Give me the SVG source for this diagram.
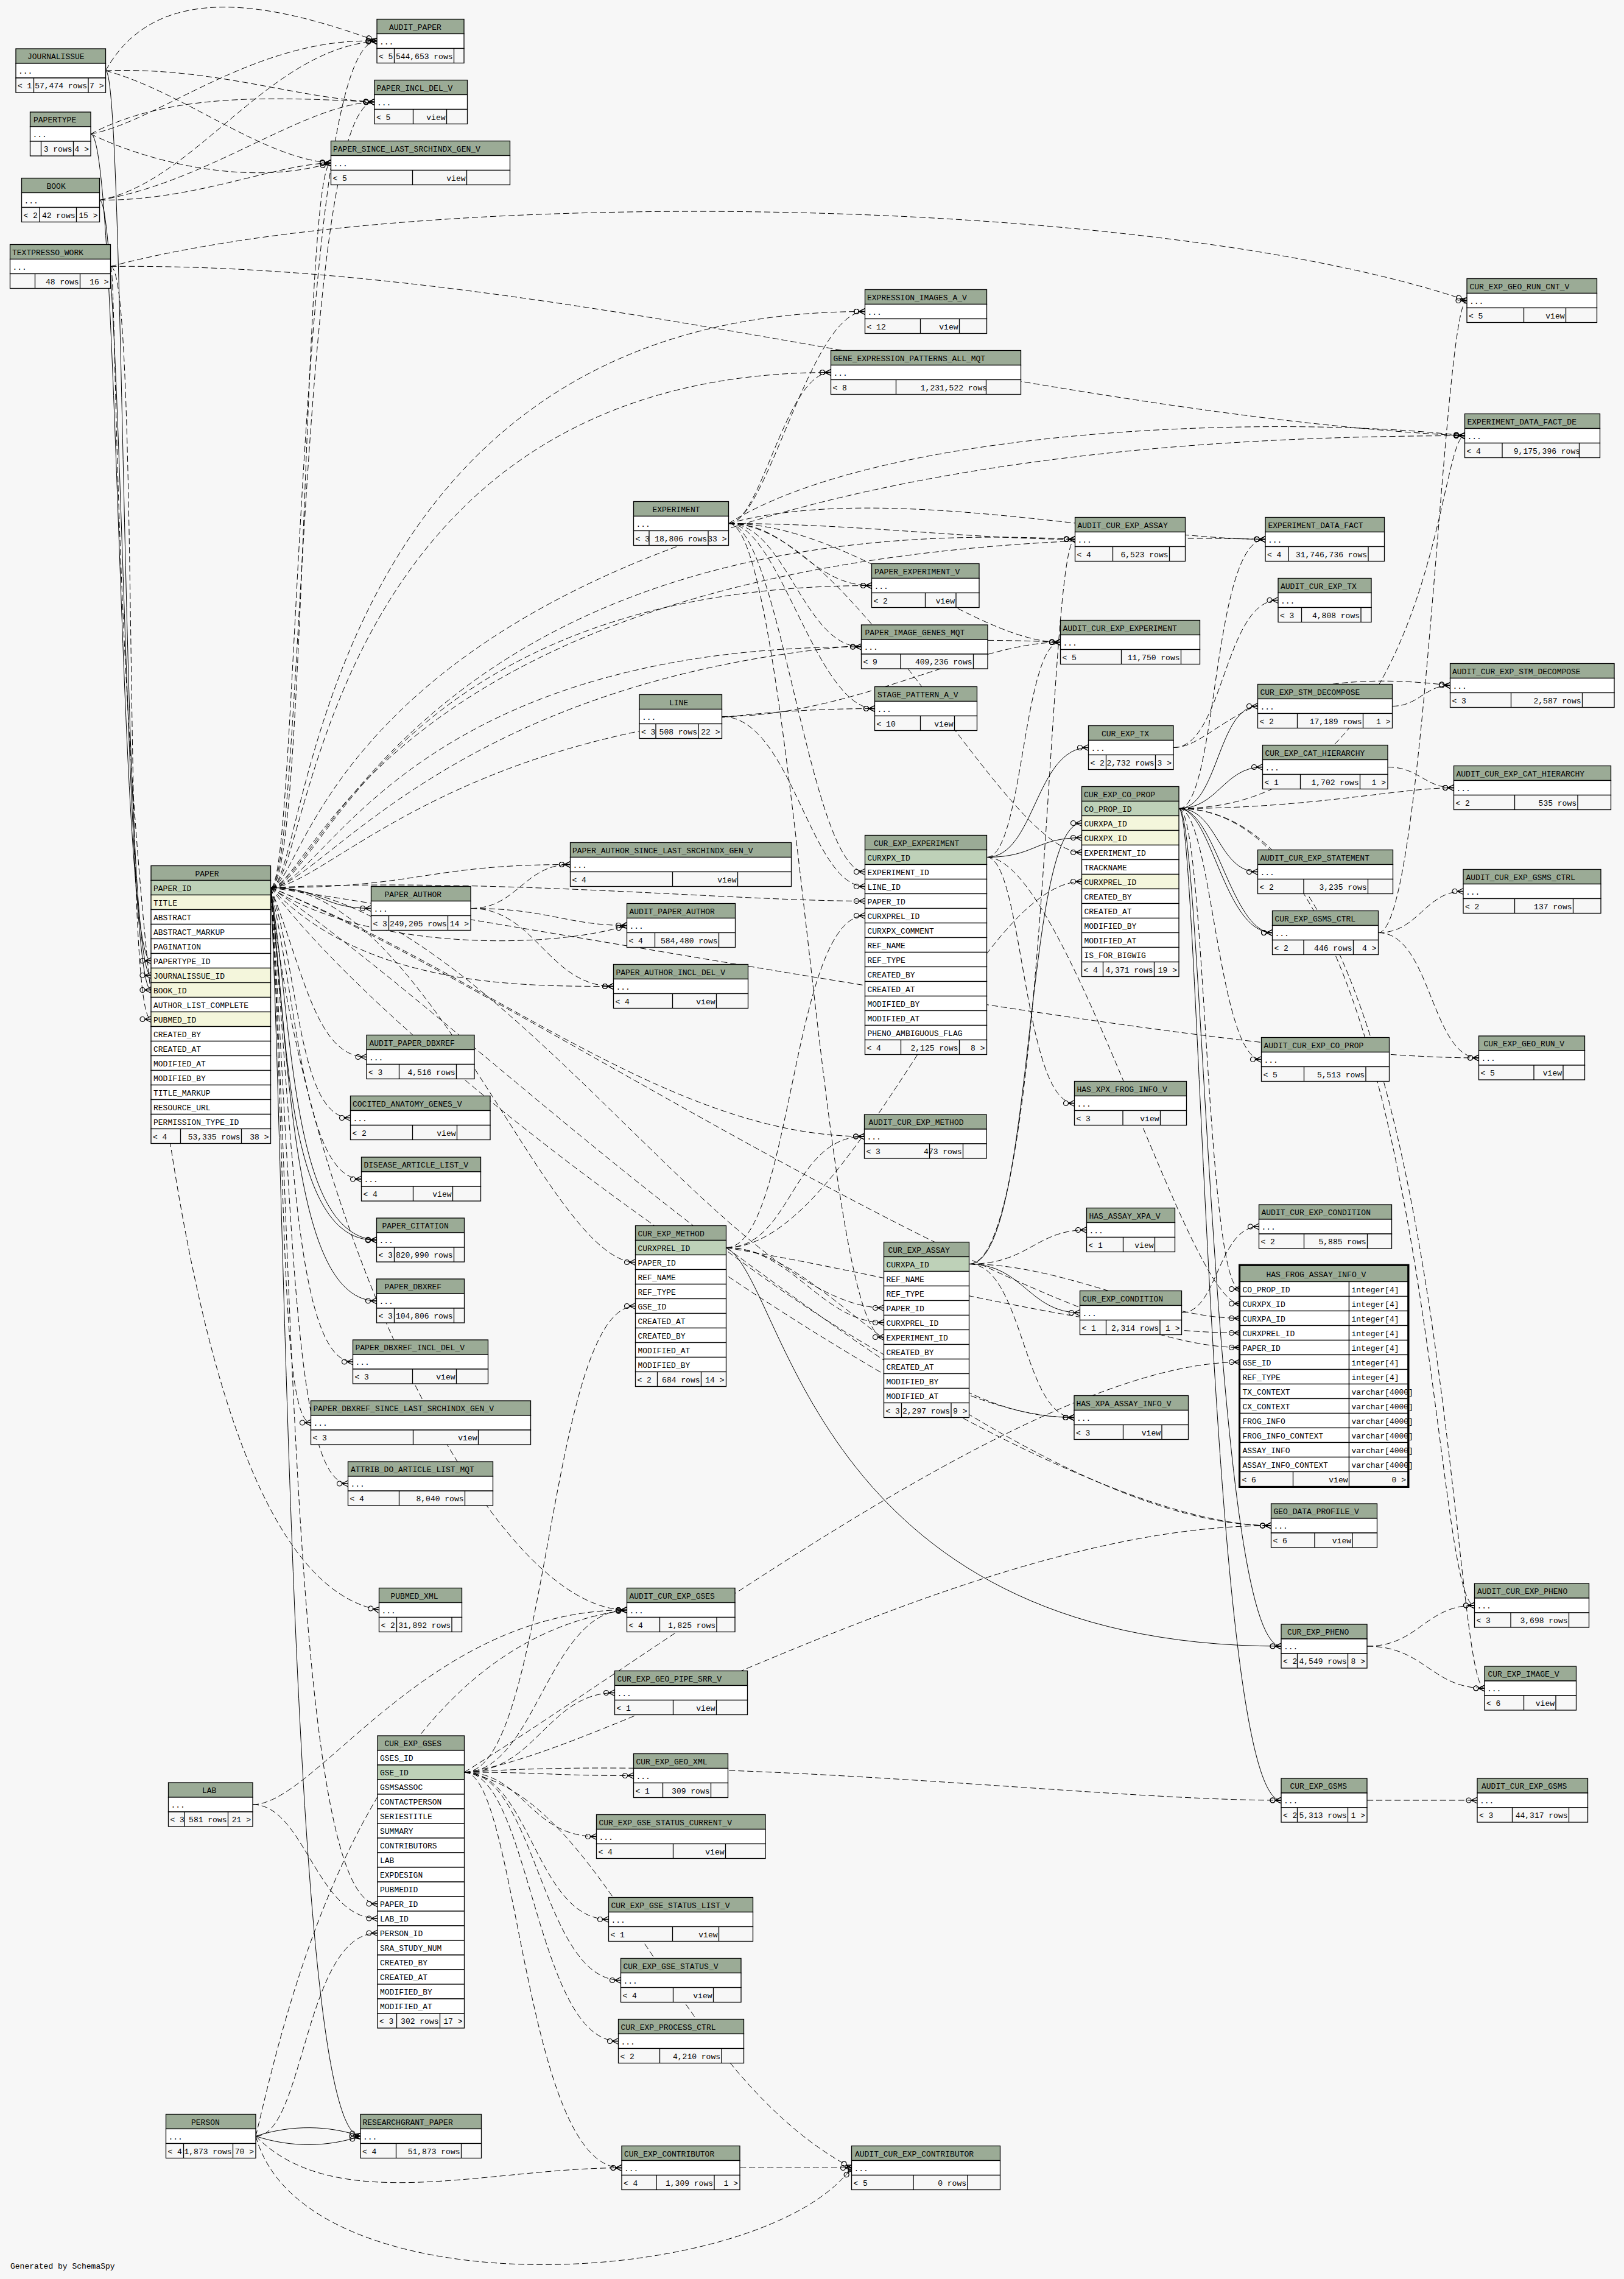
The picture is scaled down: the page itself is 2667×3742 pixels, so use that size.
<svg xmlns="http://www.w3.org/2000/svg" width="2667" height="3742" viewBox="0 0 2667 3742">
<style>
text{font-family:"Liberation Mono","DejaVu Sans Mono",monospace;font-size:13px;fill:#000}
.h{fill:#9bab96;stroke:#000;stroke-width:1.3}
.b{fill:#fff;stroke:#000;stroke-width:1.3}
.k{fill:#bed1b8;stroke:#000;stroke-width:1.3}
.i{fill:#f4f6dc;stroke:#000;stroke-width:1.3}
.f{fill:#f7f7f7;stroke:#000;stroke-width:1.3}
.l{stroke:#000;stroke-width:1.3;fill:none}
.r{text-anchor:end}
#edges path{fill:none;stroke:#000;stroke-width:1;marker-end:url(#cf)}
#edges .d{stroke-dasharray:10 5}
</style>
<defs>
<marker id="cf" viewBox="-20 -8 22 16" refX="0" refY="0" markerWidth="22" markerHeight="16" markerUnits="userSpaceOnUse" orient="auto">
<path d="M-10 0L0-5M-10 0H0M-10 0L0 5" fill="none" stroke="#000" stroke-width="1.3"/>
<circle cx="-14" cy="0" r="4" fill="none" stroke="#000" stroke-width="1.2"/>
</marker>
</defs>
<rect width="2667" height="3742" fill="#f7f7f7"/>
<g id="edges">
<path class="d" d="M173.5 116C260 -40 460 10 619 67.5"/>
<path class="d" d="M173.5 116C350 110 480 160 615 167.5"/>
<path class="d" d="M173.5 116C300 150 430 260 543.5 267.5"/>
<path class="s" d="M173.5 116C205 116 200 1601.5 248 1601.5"/>
<path class="d" d="M149 220C260 200 420 60 619 67.5"/>
<path class="d" d="M149 220C280 150 460 160 615 167.5"/>
<path class="d" d="M149 220C230 260 400 310 543.5 267.5"/>
<path class="s" d="M149 220C195 220 195 1577.5 248 1577.5"/>
<path class="d" d="M163.5 328.5C320 300 440 80 619 67.5"/>
<path class="d" d="M163.5 328.5C340 300 500 170 615 167.5"/>
<path class="d" d="M163.5 328.5C320 330 450 270 543.5 267.5"/>
<path class="s" d="M163.5 328.5C200 328.5 205 1625.5 248 1625.5"/>
<path class="d" d="M181.5 437.5C700 300 1900 320 2409 493.5"/>
<path class="d" d="M181.5 437.5C230 437.5 200 1673.5 248 1673.5"/>
<path class="d" d="M181.5 437.5C200 437.5 160 2560 622.5 2643.5"/>
<path class="d" d="M181.5 437.5C900 430 1700 680 2405.5 715.5"/>
<path class="d" d="M444.5 1457.5C490 1457.5 486 67.5 619 67.5"/>
<path class="d" d="M444.5 1457.5C496 1457.5 492 167.5 615 167.5"/>
<path class="d" d="M444.5 1457.5C502 1457.5 498 267.5 543.5 267.5"/>
<path class="d" d="M444.5 1457.5C508 1457.5 505 511.5 1420.5 511.5"/>
<path class="d" d="M444.5 1457.5C512 1457.5 515 611.5 1364.5 611.5"/>
<path class="d" d="M444.5 1457.5C516 1457.5 540 715.5 2405.5 715.5"/>
<path class="d" d="M444.5 1457.5C520 1457.5 640 850 2078 885.5"/>
<path class="d" d="M444.5 1457.5C524 1457.5 700 830 1765.5 885.5"/>
<path class="d" d="M444.5 1457.5C528 1457.5 640 961.5 1431.5 961.5"/>
<path class="d" d="M444.5 1457.5C532 1457.5 660 1062 1414.5 1062"/>
<path class="d" d="M444.5 1457.5C536 1457.5 800 1010 1741.5 1054.5"/>
<path class="d" d="M444.5 1457.5C540 1457.5 760 1163.5 1436.5 1163.5"/>
<path class="d" d="M444.5 1457.5C800 1440 1200 1479.5 1420.5 1479.5"/>
<path class="d" d="M444.5 1457.5C690 1457.5 700 1419.5 936.5 1419.5"/>
<path class="s" d="M444.5 1457.5C527 1457.5 527 1491.5 609.5 1491.5"/>
<path class="d" d="M444.5 1457.5C600 1560 900 1560 1029.5 1519.5"/>
<path class="d" d="M444.5 1457.5C600 1620 850 1619.5 1007.5 1619.5"/>
<path class="d" d="M444.5 1457.5C500 1600 520 1735.5 602 1735.5"/>
<path class="d" d="M444.5 1457.5C492 1600 490 1835.5 575.5 1835.5"/>
<path class="d" d="M444.5 1457.5C488 1650 500 1936 593.5 1936"/>
<path class="s" d="M444.5 1457.5C482 1700 480 2030 618.5 2036"/>
<path class="s" d="M444.5 1457.5C472 1700 470 2042 618.5 2036"/>
<path class="s" d="M444.5 1457.5C476 1750 480 2136 618.5 2136"/>
<path class="d" d="M444.5 1457.5C478 1800 480 2236 579.5 2236"/>
<path class="d" d="M444.5 1457.5C470 1900 460 2336 510.5 2336"/>
<path class="d" d="M444.5 1457.5C480 1950 480 2436 571.5 2436"/>
<path class="d" d="M444.5 1457.5C700 1457.5 900 2072.5 1043.5 2072.5"/>
<path class="d" d="M444.5 1457.5C800 1470 1200 2147.5 1451.5 2147.5"/>
<path class="d" d="M444.5 1457.5C800 1600 1700 2212.5 2036.5 2212.5"/>
<path class="d" d="M444.5 1457.5C700 1800 1700 2505 2087.5 2505"/>
<path class="d" d="M444.5 1457.5C500 2000 800 2643.5 1029.5 2643.5"/>
<path class="d" d="M444.5 1457.5C480 2000 480 3126 620 3126"/>
<path class="s" d="M444.5 1457.5C470 2000 480 3507.5 592 3507.5"/>
<path class="d" d="M444.5 1457.5C800 1600 1100 1866 1419.5 1866"/>
<path class="d" d="M444.5 1457.5C800 1700 1400 2327.5 1764 2327.5"/>
<path class="d" d="M444.5 1457.5C1000 1540 2000 1737 2428.5 1737"/>
<path class="d" d="M1196.5 859.5C1260 859.5 1330 511.5 1420.5 511.5"/>
<path class="d" d="M1196.5 859.5C1250 859.5 1290 611.5 1364.5 611.5"/>
<path class="d" d="M1196.5 859.5C1400 859.5 1600 885.5 1765.5 885.5"/>
<path class="d" d="M1196.5 859.5C1450 790 1850 885.5 2078 885.5"/>
<path class="d" d="M1196.5 859.5C1300 859.5 1330 961.5 1431.5 961.5"/>
<path class="d" d="M1196.5 859.5C1290 859.5 1320 1062 1414.5 1062"/>
<path class="d" d="M1196.5 859.5C1400 859.5 1600 1054.5 1741.5 1054.5"/>
<path class="d" d="M1196.5 859.5C1280 859.5 1340 1163.5 1436.5 1163.5"/>
<path class="d" d="M1196.5 859.5C1280 859.5 1330 1431.5 1420.5 1431.5"/>
<path class="d" d="M1196.5 859.5C1400 859.5 1650 1399.5 1776.5 1399.5"/>
<path class="d" d="M1196.5 859.5C1300 859.5 1350 2195.5 1451.5 2195.5"/>
<path class="d" d="M1196.5 859.5C1450 700 2100 680 2405.5 715.5"/>
<path class="d" d="M1185.5 1176.5C1300 1176.5 1330 1455.5 1420.5 1455.5"/>
<path class="d" d="M1185.5 1176.5C1400 1176.5 1600 1054.5 1741.5 1054.5"/>
<path class="d" d="M773 1491.5C850 1491.5 860 1419.5 936.5 1419.5"/>
<path class="d" d="M773 1491.5C900 1491.5 930 1519.5 1029.5 1519.5"/>
<path class="d" d="M773 1491.5C880 1491.5 900 1619.5 1007.5 1619.5"/>
<path class="s" d="M1620.5 1407.5C1700 1407.5 1700 1227.5 1787.5 1227.5"/>
<path class="s" d="M1620.5 1407.5C1700 1407.5 1700 1375.5 1776.5 1375.5"/>
<path class="d" d="M1620.5 1407.5C1750 1407.5 1950 2140.5 2036.5 2140.5"/>
<path class="d" d="M1620.5 1407.5C1680 1407.5 1680 1811.5 1764.5 1811.5"/>
<path class="d" d="M1620.5 1407.5C1680 1407.5 1680 1054.5 1741.5 1054.5"/>
<path class="s" d="M1936 1327.5C2000 1327.5 2000 1159.5 2065.5 1159.5"/>
<path class="s" d="M1936 1327.5C2000 1327.5 2010 1259.5 2073.5 1259.5"/>
<path class="s" d="M1936 1327.5C2000 1327.5 2000 1431.5 2065.5 1431.5"/>
<path class="s" d="M1936 1327.5C1990 1327.5 2010 1531.5 2089.5 1531.5"/>
<path class="s" d="M1936 1327.5C1996 1327.5 2022 1531.5 2089.5 1531.5"/>
<path class="d" d="M1936 1327.5C1990 1327.5 2000 1739.5 2071.5 1739.5"/>
<path class="d" d="M1936 1327.5C1980 1327.5 1980 2116.5 2036.5 2116.5"/>
<path class="s" d="M1936 1327.5C1975 1327.5 1990 2703 2104 2703"/>
<path class="s" d="M1936 1327.5C1970 1327.5 1985 2956 2104 2956"/>
<path class="d" d="M1936 1327.5C2000 1327.5 1990 885.5 2078 885.5"/>
<path class="d" d="M1936 1327.5C2350 1327.5 2350 2636 2421.5 2636"/>
<path class="d" d="M1936 1327.5C2380 1327.5 2380 2772 2438 2772"/>
<path class="d" d="M1936 1327.5C2150 1327.5 2300 1293.5 2387.5 1293.5"/>
<path class="d" d="M1936 1327.5C2360 1327.5 2360 715.5 2405.5 715.5"/>
<path class="d" d="M1927 1227.5C2010 1227.5 2010 985.5 2099 985.5"/>
<path class="d" d="M1927 1227.5C2000 1227.5 2050 1085 2381.5 1125.5"/>
<path class="d" d="M2286.5 1159.5C2330 1159.5 2340 1125.5 2381.5 1125.5"/>
<path class="d" d="M2279 1259.5C2330 1259.5 2340 1293.5 2387.5 1293.5"/>
<path class="d" d="M2263.5 1531.5C2330 1531.5 2340 1463.5 2403 1463.5"/>
<path class="d" d="M2263.5 1531.5C2350 1531.5 2350 1737 2428.5 1737"/>
<path class="d" d="M2263.5 1531.5C2340 1531.5 2370 493.5 2409 493.5"/>
<path class="d" d="M1192.5 2048.5C1400 2048.5 1600 1447.5 1776.5 1447.5"/>
<path class="d" d="M1192.5 2048.5C1300 2048.5 1300 1503.5 1420.5 1503.5"/>
<path class="d" d="M1192.5 2048.5C1300 2048.5 1350 2171.5 1451.5 2171.5"/>
<path class="d" d="M1192.5 2048.5C1500 2100 1800 2188.5 2036.5 2188.5"/>
<path class="d" d="M1192.5 2048.5C1300 2048.5 1300 1866 1419.5 1866"/>
<path class="s" d="M1192.5 2048.5C1290 2100 1330 2703 2104 2703"/>
<path class="d" d="M1192.5 2048.5C1400 2200 1800 2505 2087.5 2505"/>
<path class="d" d="M1192.5 2048.5C1350 2048.5 1500 2327.5 1764 2327.5"/>
<path class="s" d="M1591.5 2075.5C1700 2075.5 1680 1351.5 1776.5 1351.5"/>
<path class="s" d="M1591.5 2075.5C1680 2075.5 1690 2155.5 1773.5 2155.5"/>
<path class="d" d="M1591.5 2075.5C1690 2075.5 1700 2019.5 1784.5 2019.5"/>
<path class="d" d="M1591.5 2075.5C1750 2075.5 1900 2164.5 2036.5 2164.5"/>
<path class="d" d="M1591.5 2075.5C1680 2075.5 1680 2327.5 1764 2327.5"/>
<path class="d" d="M1591.5 2075.5C1720 2075.5 1720 885.5 1765.5 885.5"/>
<path class="d" d="M1940.5 2155.5C2000 2155.5 2000 2014 2067.5 2014"/>
<path class="d" d="M2245 2703C2330 2703 2340 2636 2421.5 2636"/>
<path class="d" d="M2245 2703C2340 2703 2350 2772 2438 2772"/>
<path class="d" d="M2245 2956C2330 2956 2340 2956 2426 2956"/>
<path class="d" d="M762.5 2910C900 2910 900 2144.5 1043.5 2144.5"/>
<path class="d" d="M762.5 2910C1100 2700 1700 2236.5 2036.5 2236.5"/>
<path class="d" d="M762.5 2910C880 2910 900 2643.5 1029.5 2643.5"/>
<path class="d" d="M762.5 2910C880 2910 900 2779.5 1009.5 2779.5"/>
<path class="d" d="M762.5 2910C900 2910 900 2915.5 1040.5 2915.5"/>
<path class="d" d="M762.5 2910C860 2910 870 3015.5 979.5 3015.5"/>
<path class="d" d="M762.5 2910C870 2910 880 3151.5 999.5 3151.5"/>
<path class="d" d="M762.5 2910C880 2910 890 3251.5 1019.5 3251.5"/>
<path class="d" d="M762.5 2910C870 2910 880 3351.5 1015.5 3351.5"/>
<path class="d" d="M762.5 2910C850 2910 860 3559.5 1021 3559.5"/>
<path class="d" d="M762.5 2910C1000 2950 1100 3400 1398.5 3559.5"/>
<path class="d" d="M762.5 2910C1000 2880 1600 2505 2087.5 2505"/>
<path class="d" d="M762.5 2910C1200 2880 1800 2956 2104 2956"/>
<path class="d" d="M415 2963C500 2963 520 3150 620 3150"/>
<path class="d" d="M415 2963C520 2963 700 2643.5 1029.5 2643.5"/>
<path class="d" d="M420 3507.5C500 3507.5 500 3174 620 3174"/>
<path class="s" d="M420 3507.5C480 3488 540 3490 592 3507.5"/>
<path class="s" d="M420 3507.5C480 3527 540 3525 592 3507.5"/>
<path class="d" d="M420 3507.5C550 3640 800 3559.5 1021 3559.5"/>
<path class="d" d="M420 3507.5C500 3800 1250 3760 1398.5 3559.5"/>
<path class="d" d="M420 3507.5C470 3300 600 2700 1029.5 2643.5"/>
<path class="d" d="M1215 3559.5C1300 3559.5 1300 3559.5 1398.5 3559.5"/>
</g>
<g id="JOURNALISSUE"><rect class="h" x="26" y="80" width="147.5" height="24"/><text x="45" y="97">JOURNALISSUE</text><rect class="b" x="26" y="104" width="147.5" height="24"/><text x="30" y="121">...</text><rect class="f" x="26" y="128" width="147.5" height="24"/><path class="l" d="M55.5 128v24M145 128v24"/><text x="29" y="145">&lt; 1</text><text class="r" x="143" y="145">57,474 rows</text><text class="r" x="170.5" y="145">7 &gt;</text></g>
<g id="PAPERTYPE"><rect class="h" x="49.5" y="184" width="99.5" height="24"/><text x="55" y="201">PAPERTYPE</text><rect class="b" x="49.5" y="208" width="99.5" height="24"/><text x="53.5" y="225">...</text><rect class="f" x="49.5" y="232" width="99.5" height="24"/><path class="l" d="M67.5 232v24M120.5 232v24"/><text class="r" x="118.5" y="249">3 rows</text><text class="r" x="146" y="249">4 &gt;</text></g>
<g id="BOOK"><rect class="h" x="35.5" y="292.5" width="128" height="24"/><text x="76.5" y="309.5">BOOK</text><rect class="b" x="35.5" y="316.5" width="128" height="24"/><text x="39.5" y="333.5">...</text><rect class="f" x="35.5" y="340.5" width="128" height="24"/><path class="l" d="M65 340.5v24M125.5 340.5v24"/><text x="38.5" y="357.5">&lt; 2</text><text class="r" x="123.5" y="357.5">42 rows</text><text class="r" x="160.5" y="357.5">15 &gt;</text></g>
<g id="TEXTPRESSO_WORK"><rect class="h" x="16.5" y="401.5" width="165" height="24"/><text x="20" y="418.5">TEXTPRESSO_WORK</text><rect class="b" x="16.5" y="425.5" width="165" height="24"/><text x="20.5" y="442.5">...</text><rect class="f" x="16.5" y="449.5" width="165" height="24"/><path class="l" d="M57.5 449.5v24M131.5 449.5v24"/><text class="r" x="129.5" y="466.5">48 rows</text><text class="r" x="178.5" y="466.5">16 &gt;</text></g>
<g id="AUDIT_PAPER"><rect class="h" x="619" y="31.5" width="143" height="24"/><text x="639" y="48.5">AUDIT_PAPER</text><rect class="b" x="619" y="55.5" width="143" height="24"/><text x="623" y="72.5">...</text><rect class="f" x="619" y="79.5" width="143" height="24"/><path class="l" d="M647.5 79.5v24M745.5 79.5v24"/><text x="622" y="96.5">&lt; 5</text><text class="r" x="743.5" y="96.5">544,653 rows</text></g>
<g id="PAPER_INCL_DEL_V"><rect class="h" x="615" y="131.5" width="152.5" height="24"/><text x="618.5" y="148.5">PAPER_INCL_DEL_V</text><rect class="b" x="615" y="155.5" width="152.5" height="24"/><text x="619" y="172.5">...</text><rect class="f" x="615" y="179.5" width="152.5" height="24"/><path class="l" d="M678.5 179.5v24M733.5 179.5v24"/><text x="618" y="196.5">&lt; 5</text><text class="r" x="731.5" y="196.5">view</text></g>
<g id="PAPER_SINCE_LAST_SRCHINDX_GEN_V"><rect class="h" x="543.5" y="231.5" width="294" height="24"/><text x="547" y="248.5">PAPER_SINCE_LAST_SRCHINDX_GEN_V</text><rect class="b" x="543.5" y="255.5" width="294" height="24"/><text x="547.5" y="272.5">...</text><rect class="f" x="543.5" y="279.5" width="294" height="24"/><path class="l" d="M677.5 279.5v24M766.5 279.5v24"/><text x="546.5" y="296.5">&lt; 5</text><text class="r" x="764.5" y="296.5">view</text></g>
<g id="CUR_EXP_GEO_RUN_CNT_V"><rect class="h" x="2409" y="457.5" width="213.5" height="24"/><text x="2413.5" y="474.5">CUR_EXP_GEO_RUN_CNT_V</text><rect class="b" x="2409" y="481.5" width="213.5" height="24"/><text x="2413" y="498.5">...</text><rect class="f" x="2409" y="505.5" width="213.5" height="24"/><path class="l" d="M2502.5 505.5v24M2571.5 505.5v24"/><text x="2412" y="522.5">&lt; 5</text><text class="r" x="2569.5" y="522.5">view</text></g>
<g id="EXPRESSION_IMAGES_A_V"><rect class="h" x="1420.5" y="475.5" width="200" height="24"/><text x="1424" y="492.5">EXPRESSION_IMAGES_A_V</text><rect class="b" x="1420.5" y="499.5" width="200" height="24"/><text x="1424.5" y="516.5">...</text><rect class="f" x="1420.5" y="523.5" width="200" height="24"/><path class="l" d="M1511.5 523.5v24M1575.5 523.5v24"/><text x="1423.5" y="540.5">&lt; 12</text><text class="r" x="1573.5" y="540.5">view</text></g>
<g id="GENE_EXPRESSION_PATTERNS_ALL_MQT"><rect class="h" x="1364.5" y="575.5" width="312" height="24"/><text x="1368.5" y="592.5">GENE_EXPRESSION_PATTERNS_ALL_MQT</text><rect class="b" x="1364.5" y="599.5" width="312" height="24"/><text x="1368.5" y="616.5">...</text><rect class="f" x="1364.5" y="623.5" width="312" height="24"/><path class="l" d="M1471.5 623.5v24M1619.5 623.5v24"/><text x="1367.5" y="640.5">&lt; 8</text><text class="r" x="1621" y="640.5">1,231,522 rows</text></g>
<g id="EXPERIMENT_DATA_FACT_DE"><rect class="h" x="2405.5" y="679.5" width="222" height="24"/><text x="2409.5" y="696.5">EXPERIMENT_DATA_FACT_DE</text><rect class="b" x="2405.5" y="703.5" width="222" height="24"/><text x="2409.5" y="720.5">...</text><rect class="f" x="2405.5" y="727.5" width="222" height="24"/><path class="l" d="M2467 727.5v24M2593.5 727.5v24"/><text x="2408.5" y="744.5">&lt; 4</text><text class="r" x="2595" y="744.5">9,175,396 rows</text></g>
<g id="EXPERIMENT"><rect class="h" x="1040.5" y="823.5" width="156" height="24"/><text x="1071.5" y="840.5">EXPERIMENT</text><rect class="b" x="1040.5" y="847.5" width="156" height="24"/><text x="1044.5" y="864.5">...</text><rect class="f" x="1040.5" y="871.5" width="156" height="24"/><path class="l" d="M1066 871.5v24M1163 871.5v24"/><text x="1043.5" y="888.5">&lt; 3</text><text class="r" x="1161" y="888.5">18,806 rows</text><text class="r" x="1193.5" y="888.5">33 &gt;</text></g>
<g id="AUDIT_CUR_EXP_ASSAY"><rect class="h" x="1765.5" y="849.5" width="181" height="24"/><text x="1769.5" y="866.5">AUDIT_CUR_EXP_ASSAY</text><rect class="b" x="1765.5" y="873.5" width="181" height="24"/><text x="1769.5" y="890.5">...</text><rect class="f" x="1765.5" y="897.5" width="181" height="24"/><path class="l" d="M1827.5 897.5v24M1920.5 897.5v24"/><text x="1768.5" y="914.5">&lt; 4</text><text class="r" x="1918.5" y="914.5">6,523 rows</text></g>
<g id="EXPERIMENT_DATA_FACT"><rect class="h" x="2078" y="849.5" width="195.5" height="24"/><text x="2082.5" y="866.5">EXPERIMENT_DATA_FACT</text><rect class="b" x="2078" y="873.5" width="195.5" height="24"/><text x="2082" y="890.5">...</text><rect class="f" x="2078" y="897.5" width="195.5" height="24"/><path class="l" d="M2116 897.5v24M2247 897.5v24"/><text x="2081" y="914.5">&lt; 4</text><text class="r" x="2245" y="914.5">31,746,736 rows</text></g>
<g id="PAPER_EXPERIMENT_V"><rect class="h" x="1431.5" y="925.5" width="176.5" height="24"/><text x="1436" y="942.5">PAPER_EXPERIMENT_V</text><rect class="b" x="1431.5" y="949.5" width="176.5" height="24"/><text x="1435.5" y="966.5">...</text><rect class="f" x="1431.5" y="973.5" width="176.5" height="24"/><path class="l" d="M1519.5 973.5v24M1570 973.5v24"/><text x="1434.5" y="990.5">&lt; 2</text><text class="r" x="1568" y="990.5">view</text></g>
<g id="AUDIT_CUR_EXP_TX"><rect class="h" x="2099" y="949.5" width="153" height="24"/><text x="2103" y="966.5">AUDIT_CUR_EXP_TX</text><rect class="b" x="2099" y="973.5" width="153" height="24"/><text x="2103" y="990.5">...</text><rect class="f" x="2099" y="997.5" width="153" height="24"/><path class="l" d="M2137.5 997.5v24M2235 997.5v24"/><text x="2102" y="1014.5">&lt; 3</text><text class="r" x="2233" y="1014.5">4,808 rows</text></g>
<g id="PAPER_IMAGE_GENES_MQT"><rect class="h" x="1414.5" y="1026" width="207.5" height="24"/><text x="1420.5" y="1043">PAPER_IMAGE_GENES_MQT</text><rect class="b" x="1414.5" y="1050" width="207.5" height="24"/><text x="1418.5" y="1067">...</text><rect class="f" x="1414.5" y="1074" width="207.5" height="24"/><path class="l" d="M1479 1074v24M1598.5 1074v24"/><text x="1417.5" y="1091">&lt; 9</text><text class="r" x="1596.5" y="1091">409,236 rows</text></g>
<g id="AUDIT_CUR_EXP_EXPERIMENT"><rect class="h" x="1741.5" y="1018.5" width="229" height="24"/><text x="1745.5" y="1035.5">AUDIT_CUR_EXP_EXPERIMENT</text><rect class="b" x="1741.5" y="1042.5" width="229" height="24"/><text x="1745.5" y="1059.5">...</text><rect class="f" x="1741.5" y="1066.5" width="229" height="24"/><path class="l" d="M1841.5 1066.5v24M1939.5 1066.5v24"/><text x="1744.5" y="1083.5">&lt; 5</text><text class="r" x="1937.5" y="1083.5">11,750 rows</text></g>
<g id="AUDIT_CUR_EXP_STM_DECOMPOSE"><rect class="h" x="2381.5" y="1089.5" width="269.5" height="24"/><text x="2385" y="1106.5">AUDIT_CUR_EXP_STM_DECOMPOSE</text><rect class="b" x="2381.5" y="1113.5" width="269.5" height="24"/><text x="2385.5" y="1130.5">...</text><rect class="f" x="2381.5" y="1137.5" width="269.5" height="24"/><path class="l" d="M2481.5 1137.5v24M2598.5 1137.5v24"/><text x="2384.5" y="1154.5">&lt; 3</text><text class="r" x="2596.5" y="1154.5">2,587 rows</text></g>
<g id="CUR_EXP_STM_DECOMPOSE"><rect class="h" x="2065.5" y="1123.5" width="221" height="24"/><text x="2069.5" y="1140.5">CUR_EXP_STM_DECOMPOSE</text><rect class="b" x="2065.5" y="1147.5" width="221" height="24"/><text x="2069.5" y="1164.5">...</text><rect class="f" x="2065.5" y="1171.5" width="221" height="24"/><path class="l" d="M2130.5 1171.5v24M2238.5 1171.5v24"/><text x="2068.5" y="1188.5">&lt; 2</text><text class="r" x="2236.5" y="1188.5">17,189 rows</text><text class="r" x="2283.5" y="1188.5">1 &gt;</text></g>
<g id="STAGE_PATTERN_A_V"><rect class="h" x="1436.5" y="1127.5" width="168" height="24"/><text x="1441" y="1144.5">STAGE_PATTERN_A_V</text><rect class="b" x="1436.5" y="1151.5" width="168" height="24"/><text x="1440.5" y="1168.5">...</text><rect class="f" x="1436.5" y="1175.5" width="168" height="24"/><path class="l" d="M1511.5 1175.5v24M1567.5 1175.5v24"/><text x="1439.5" y="1192.5">&lt; 10</text><text class="r" x="1565.5" y="1192.5">view</text></g>
<g id="LINE"><rect class="h" x="1050" y="1140.5" width="135.5" height="24"/><text x="1099" y="1157.5">LINE</text><rect class="b" x="1050" y="1164.5" width="135.5" height="24"/><text x="1054" y="1181.5">...</text><rect class="f" x="1050" y="1188.5" width="135.5" height="24"/><path class="l" d="M1077 1188.5v24M1147 1188.5v24"/><text x="1053" y="1205.5">&lt; 3</text><text class="r" x="1145" y="1205.5">508 rows</text><text class="r" x="1182.5" y="1205.5">22 &gt;</text></g>
<g id="CUR_EXP_TX"><rect class="h" x="1787.5" y="1191.5" width="139.5" height="24"/><text x="1809" y="1208.5">CUR_EXP_TX</text><rect class="b" x="1787.5" y="1215.5" width="139.5" height="24"/><text x="1791.5" y="1232.5">...</text><rect class="f" x="1787.5" y="1239.5" width="139.5" height="24"/><path class="l" d="M1816.5 1239.5v24M1897.5 1239.5v24"/><text x="1790.5" y="1256.5">&lt; 2</text><text class="r" x="1895.5" y="1256.5">2,732 rows</text><text class="r" x="1924" y="1256.5">3 &gt;</text></g>
<g id="CUR_EXP_CAT_HIERARCHY"><rect class="h" x="2073.5" y="1223.5" width="205.5" height="24"/><text x="2077.5" y="1240.5">CUR_EXP_CAT_HIERARCHY</text><rect class="b" x="2073.5" y="1247.5" width="205.5" height="24"/><text x="2077.5" y="1264.5">...</text><rect class="f" x="2073.5" y="1271.5" width="205.5" height="24"/><path class="l" d="M2135.5 1271.5v24M2233.5 1271.5v24"/><text x="2076.5" y="1288.5">&lt; 1</text><text class="r" x="2231.5" y="1288.5">1,702 rows</text><text class="r" x="2276" y="1288.5">1 &gt;</text></g>
<g id="AUDIT_CUR_EXP_CAT_HIERARCHY"><rect class="h" x="2387.5" y="1257.5" width="258" height="24"/><text x="2391.5" y="1274.5">AUDIT_CUR_EXP_CAT_HIERARCHY</text><rect class="b" x="2387.5" y="1281.5" width="258" height="24"/><text x="2391.5" y="1298.5">...</text><rect class="f" x="2387.5" y="1305.5" width="258" height="24"/><path class="l" d="M2487.5 1305.5v24M2591 1305.5v24"/><text x="2390.5" y="1322.5">&lt; 2</text><text class="r" x="2589" y="1322.5">535 rows</text></g>
<g id="PAPER_AUTHOR_SINCE_LAST_SRCHINDX_GEN_V"><rect class="h" x="936.5" y="1383.5" width="363" height="24"/><text x="940" y="1400.5">PAPER_AUTHOR_SINCE_LAST_SRCHINDX_GEN_V</text><rect class="b" x="936.5" y="1407.5" width="363" height="24"/><text x="940.5" y="1424.5">...</text><rect class="f" x="936.5" y="1431.5" width="363" height="24"/><path class="l" d="M1104.5 1431.5v24M1211.5 1431.5v24"/><text x="939.5" y="1448.5">&lt; 4</text><text class="r" x="1209.5" y="1448.5">view</text></g>
<g id="AUDIT_CUR_EXP_STATEMENT"><rect class="h" x="2065.5" y="1395.5" width="222" height="24"/><text x="2069.5" y="1412.5">AUDIT_CUR_EXP_STATEMENT</text><rect class="b" x="2065.5" y="1419.5" width="222" height="24"/><text x="2069.5" y="1436.5">...</text><rect class="f" x="2065.5" y="1443.5" width="222" height="24"/><path class="l" d="M2141 1443.5v24M2246.5 1443.5v24"/><text x="2068.5" y="1460.5">&lt; 2</text><text class="r" x="2244.5" y="1460.5">3,235 rows</text></g>
<g id="AUDIT_CUR_EXP_GSMS_CTRL"><rect class="h" x="2403" y="1427.5" width="226" height="24"/><text x="2407.5" y="1444.5">AUDIT_CUR_EXP_GSMS_CTRL</text><rect class="b" x="2403" y="1451.5" width="226" height="24"/><text x="2407" y="1468.5">...</text><rect class="f" x="2403" y="1475.5" width="226" height="24"/><path class="l" d="M2487.5 1475.5v24M2583.5 1475.5v24"/><text x="2406" y="1492.5">&lt; 2</text><text class="r" x="2581.5" y="1492.5">137 rows</text></g>
<g id="PAPER_AUTHOR"><rect class="h" x="609.5" y="1455.5" width="163.5" height="24"/><text x="631.5" y="1472.5">PAPER_AUTHOR</text><rect class="b" x="609.5" y="1479.5" width="163.5" height="24"/><text x="613.5" y="1496.5">...</text><rect class="f" x="609.5" y="1503.5" width="163.5" height="24"/><path class="l" d="M638.5 1503.5v24M735.5 1503.5v24"/><text x="612.5" y="1520.5">&lt; 3</text><text class="r" x="733.5" y="1520.5">249,205 rows</text><text class="r" x="770" y="1520.5">14 &gt;</text></g>
<g id="AUDIT_PAPER_AUTHOR"><rect class="h" x="1029.5" y="1483.5" width="178" height="24"/><text x="1033.5" y="1500.5">AUDIT_PAPER_AUTHOR</text><rect class="b" x="1029.5" y="1507.5" width="178" height="24"/><text x="1033.5" y="1524.5">...</text><rect class="f" x="1029.5" y="1531.5" width="178" height="24"/><path class="l" d="M1075.5 1531.5v24M1180.5 1531.5v24"/><text x="1032.5" y="1548.5">&lt; 4</text><text class="r" x="1178.5" y="1548.5">584,480 rows</text></g>
<g id="CUR_EXP_GSMS_CTRL"><rect class="h" x="2089.5" y="1495.5" width="174" height="24"/><text x="2093.5" y="1512.5">CUR_EXP_GSMS_CTRL</text><rect class="b" x="2089.5" y="1519.5" width="174" height="24"/><text x="2093.5" y="1536.5">...</text><rect class="f" x="2089.5" y="1543.5" width="174" height="24"/><path class="l" d="M2141 1543.5v24M2222.5 1543.5v24"/><text x="2092.5" y="1560.5">&lt; 2</text><text class="r" x="2220.5" y="1560.5">446 rows</text><text class="r" x="2260.5" y="1560.5">4 &gt;</text></g>
<g id="PAPER_AUTHOR_INCL_DEL_V"><rect class="h" x="1007.5" y="1583.5" width="221" height="24"/><text x="1011.5" y="1600.5">PAPER_AUTHOR_INCL_DEL_V</text><rect class="b" x="1007.5" y="1607.5" width="221" height="24"/><text x="1011.5" y="1624.5">...</text><rect class="f" x="1007.5" y="1631.5" width="221" height="24"/><path class="l" d="M1104.5 1631.5v24M1176.5 1631.5v24"/><text x="1010.5" y="1648.5">&lt; 4</text><text class="r" x="1174.5" y="1648.5">view</text></g>
<g id="AUDIT_PAPER_DBXREF"><rect class="h" x="602" y="1699.5" width="177" height="24"/><text x="606.5" y="1716.5">AUDIT_PAPER_DBXREF</text><rect class="b" x="602" y="1723.5" width="177" height="24"/><text x="606" y="1740.5">...</text><rect class="f" x="602" y="1747.5" width="177" height="24"/><path class="l" d="M655.5 1747.5v24M749.5 1747.5v24"/><text x="605" y="1764.5">&lt; 3</text><text class="r" x="747.5" y="1764.5">4,516 rows</text></g>
<g id="AUDIT_CUR_EXP_CO_PROP"><rect class="h" x="2071.5" y="1703.5" width="210" height="24"/><text x="2075.5" y="1720.5">AUDIT_CUR_EXP_CO_PROP</text><rect class="b" x="2071.5" y="1727.5" width="210" height="24"/><text x="2075.5" y="1744.5">...</text><rect class="f" x="2071.5" y="1751.5" width="210" height="24"/><path class="l" d="M2141.5 1751.5v24M2243 1751.5v24"/><text x="2074.5" y="1768.5">&lt; 5</text><text class="r" x="2241" y="1768.5">5,513 rows</text></g>
<g id="CUR_EXP_GEO_RUN_V"><rect class="h" x="2428.5" y="1701" width="174" height="24"/><text x="2436.5" y="1718">CUR_EXP_GEO_RUN_V</text><rect class="b" x="2428.5" y="1725" width="174" height="24"/><text x="2432.5" y="1742">...</text><rect class="f" x="2428.5" y="1749" width="174" height="24"/><path class="l" d="M2519 1749v24M2567 1749v24"/><text x="2431.5" y="1766">&lt; 5</text><text class="r" x="2565" y="1766">view</text></g>
<g id="HAS_XPX_FROG_INFO_V"><rect class="h" x="1764.5" y="1775.5" width="184" height="24"/><text x="1768.5" y="1792.5">HAS_XPX_FROG_INFO_V</text><rect class="b" x="1764.5" y="1799.5" width="184" height="24"/><text x="1768.5" y="1816.5">...</text><rect class="f" x="1764.5" y="1823.5" width="184" height="24"/><path class="l" d="M1844 1823.5v24M1905.5 1823.5v24"/><text x="1767.5" y="1840.5">&lt; 3</text><text class="r" x="1903.5" y="1840.5">view</text></g>
<g id="COCITED_ANATOMY_GENES_V"><rect class="h" x="575.5" y="1799.5" width="229.5" height="24"/><text x="579" y="1816.5">COCITED_ANATOMY_GENES_V</text><rect class="b" x="575.5" y="1823.5" width="229.5" height="24"/><text x="579.5" y="1840.5">...</text><rect class="f" x="575.5" y="1847.5" width="229.5" height="24"/><path class="l" d="M677.5 1847.5v24M750.5 1847.5v24"/><text x="578.5" y="1864.5">&lt; 2</text><text class="r" x="748.5" y="1864.5">view</text></g>
<g id="AUDIT_CUR_EXP_METHOD"><rect class="h" x="1419.5" y="1830" width="200.5" height="24"/><text x="1426.5" y="1847">AUDIT_CUR_EXP_METHOD</text><rect class="b" x="1419.5" y="1854" width="200.5" height="24"/><text x="1423.5" y="1871">...</text><rect class="f" x="1419.5" y="1878" width="200.5" height="24"/><path class="l" d="M1526.5 1878v24M1581.5 1878v24"/><text x="1422.5" y="1895">&lt; 3</text><text class="r" x="1579.5" y="1895">473 rows</text></g>
<g id="DISEASE_ARTICLE_LIST_V"><rect class="h" x="593.5" y="1900" width="196" height="24"/><text x="597.5" y="1917">DISEASE_ARTICLE_LIST_V</text><rect class="b" x="593.5" y="1924" width="196" height="24"/><text x="597.5" y="1941">...</text><rect class="f" x="593.5" y="1948" width="196" height="24"/><path class="l" d="M678.5 1948v24M743.5 1948v24"/><text x="596.5" y="1965">&lt; 4</text><text class="r" x="741.5" y="1965">view</text></g>
<g id="HAS_ASSAY_XPA_V"><rect class="h" x="1784.5" y="1983.5" width="145" height="24"/><text x="1788.5" y="2000.5">HAS_ASSAY_XPA_V</text><rect class="b" x="1784.5" y="2007.5" width="145" height="24"/><text x="1788.5" y="2024.5">...</text><rect class="f" x="1784.5" y="2031.5" width="145" height="24"/><path class="l" d="M1844.5 2031.5v24M1896.5 2031.5v24"/><text x="1787.5" y="2048.5">&lt; 1</text><text class="r" x="1894.5" y="2048.5">view</text></g>
<g id="AUDIT_CUR_EXP_CONDITION"><rect class="h" x="2067.5" y="1978" width="218" height="24"/><text x="2071.5" y="1995">AUDIT_CUR_EXP_CONDITION</text><rect class="b" x="2067.5" y="2002" width="218" height="24"/><text x="2071.5" y="2019">...</text><rect class="f" x="2067.5" y="2026" width="218" height="24"/><path class="l" d="M2141.5 2026v24M2245.5 2026v24"/><text x="2070.5" y="2043">&lt; 2</text><text class="r" x="2243.5" y="2043">5,885 rows</text></g>
<g id="PAPER_CITATION"><rect class="h" x="618.5" y="2000" width="144" height="24"/><text x="627.5" y="2017">PAPER_CITATION</text><rect class="b" x="618.5" y="2024" width="144" height="24"/><text x="622.5" y="2041">...</text><rect class="f" x="618.5" y="2048" width="144" height="24"/><path class="l" d="M647.5 2048v24M745.5 2048v24"/><text x="621.5" y="2065">&lt; 3</text><text class="r" x="743.5" y="2065">820,990 rows</text></g>
<g id="PAPER_DBXREF"><rect class="h" x="618.5" y="2100" width="144" height="24"/><text x="631.5" y="2117">PAPER_DBXREF</text><rect class="b" x="618.5" y="2124" width="144" height="24"/><text x="622.5" y="2141">...</text><rect class="f" x="618.5" y="2148" width="144" height="24"/><path class="l" d="M647.5 2148v24M745.5 2148v24"/><text x="621.5" y="2165">&lt; 3</text><text class="r" x="743.5" y="2165">104,806 rows</text></g>
<g id="CUR_EXP_CONDITION"><rect class="h" x="1773.5" y="2119.5" width="167" height="24"/><text x="1777.5" y="2136.5">CUR_EXP_CONDITION</text><rect class="b" x="1773.5" y="2143.5" width="167" height="24"/><text x="1777.5" y="2160.5">...</text><rect class="f" x="1773.5" y="2167.5" width="167" height="24"/><path class="l" d="M1816.5 2167.5v24M1905 2167.5v24"/><text x="1776.5" y="2184.5">&lt; 1</text><text class="r" x="1903" y="2184.5">2,314 rows</text><text class="r" x="1937.5" y="2184.5">1 &gt;</text></g>
<g id="PAPER_DBXREF_INCL_DEL_V"><rect class="h" x="579.5" y="2200" width="222" height="24"/><text x="583.5" y="2217">PAPER_DBXREF_INCL_DEL_V</text><rect class="b" x="579.5" y="2224" width="222" height="24"/><text x="583.5" y="2241">...</text><rect class="f" x="579.5" y="2248" width="222" height="24"/><path class="l" d="M677.5 2248v24M749.5 2248v24"/><text x="582.5" y="2265">&lt; 3</text><text class="r" x="747.5" y="2265">view</text></g>
<g id="HAS_XPA_ASSAY_INFO_V"><rect class="h" x="1764" y="2291.5" width="187.5" height="24"/><text x="1767.5" y="2308.5">HAS_XPA_ASSAY_INFO_V</text><rect class="b" x="1764" y="2315.5" width="187.5" height="24"/><text x="1768" y="2332.5">...</text><rect class="f" x="1764" y="2339.5" width="187.5" height="24"/><path class="l" d="M1844.5 2339.5v24M1908 2339.5v24"/><text x="1767" y="2356.5">&lt; 3</text><text class="r" x="1906" y="2356.5">view</text></g>
<g id="PAPER_DBXREF_SINCE_LAST_SRCHINDX_GEN_V"><rect class="h" x="510.5" y="2300" width="361" height="24"/><text x="514.5" y="2317">PAPER_DBXREF_SINCE_LAST_SRCHINDX_GEN_V</text><rect class="b" x="510.5" y="2324" width="361" height="24"/><text x="514.5" y="2341">...</text><rect class="f" x="510.5" y="2348" width="361" height="24"/><path class="l" d="M678.5 2348v24M785.5 2348v24"/><text x="513.5" y="2365">&lt; 3</text><text class="r" x="783.5" y="2365">view</text></g>
<g id="ATTRIB_DO_ARTICLE_LIST_MQT"><rect class="h" x="571.5" y="2400" width="238" height="24"/><text x="576" y="2417">ATTRIB_DO_ARTICLE_LIST_MQT</text><rect class="b" x="571.5" y="2424" width="238" height="24"/><text x="575.5" y="2441">...</text><rect class="f" x="571.5" y="2448" width="238" height="24"/><path class="l" d="M655.5 2448v24M763.5 2448v24"/><text x="574.5" y="2465">&lt; 4</text><text class="r" x="761.5" y="2465">8,040 rows</text></g>
<g id="GEO_DATA_PROFILE_V"><rect class="h" x="2087.5" y="2469" width="174" height="24"/><text x="2091.5" y="2486">GEO_DATA_PROFILE_V</text><rect class="b" x="2087.5" y="2493" width="174" height="24"/><text x="2091.5" y="2510">...</text><rect class="f" x="2087.5" y="2517" width="174" height="24"/><path class="l" d="M2159 2517v24M2221 2517v24"/><text x="2090.5" y="2534">&lt; 6</text><text class="r" x="2219" y="2534">view</text></g>
<g id="PUBMED_XML"><rect class="h" x="622.5" y="2607.5" width="136" height="24"/><text x="641.5" y="2624.5">PUBMED_XML</text><rect class="b" x="622.5" y="2631.5" width="136" height="24"/><text x="626.5" y="2648.5">...</text><rect class="f" x="622.5" y="2655.5" width="136" height="24"/><path class="l" d="M651.5 2655.5v24M742 2655.5v24"/><text x="625.5" y="2672.5">&lt; 2</text><text class="r" x="740" y="2672.5">31,892 rows</text></g>
<g id="AUDIT_CUR_EXP_GSES"><rect class="h" x="1029.5" y="2607.5" width="177.5" height="24"/><text x="1033.5" y="2624.5">AUDIT_CUR_EXP_GSES</text><rect class="b" x="1029.5" y="2631.5" width="177.5" height="24"/><text x="1033.5" y="2648.5">...</text><rect class="f" x="1029.5" y="2655.5" width="177.5" height="24"/><path class="l" d="M1083.5 2655.5v24M1177 2655.5v24"/><text x="1032.5" y="2672.5">&lt; 4</text><text class="r" x="1175" y="2672.5">1,825 rows</text></g>
<g id="AUDIT_CUR_EXP_PHENO"><rect class="h" x="2421.5" y="2600" width="188" height="24"/><text x="2426" y="2617">AUDIT_CUR_EXP_PHENO</text><rect class="b" x="2421.5" y="2624" width="188" height="24"/><text x="2425.5" y="2641">...</text><rect class="f" x="2421.5" y="2648" width="188" height="24"/><path class="l" d="M2481 2648v24M2576.5 2648v24"/><text x="2424.5" y="2665">&lt; 3</text><text class="r" x="2574.5" y="2665">3,698 rows</text></g>
<g id="CUR_EXP_PHENO"><rect class="h" x="2104" y="2667" width="141" height="24"/><text x="2114" y="2684">CUR_EXP_PHENO</text><rect class="b" x="2104" y="2691" width="141" height="24"/><text x="2108" y="2708">...</text><rect class="f" x="2104" y="2715" width="141" height="24"/><path class="l" d="M2130.5 2715v24M2213.5 2715v24"/><text x="2107" y="2732">&lt; 2</text><text class="r" x="2211.5" y="2732">4,549 rows</text><text class="r" x="2242" y="2732">8 &gt;</text></g>
<g id="CUR_EXP_IMAGE_V"><rect class="h" x="2438" y="2736" width="150.5" height="24"/><text x="2443.5" y="2753">CUR_EXP_IMAGE_V</text><rect class="b" x="2438" y="2760" width="150.5" height="24"/><text x="2442" y="2777">...</text><rect class="f" x="2438" y="2784" width="150.5" height="24"/><path class="l" d="M2502.5 2784v24M2555 2784v24"/><text x="2441" y="2801">&lt; 6</text><text class="r" x="2553" y="2801">view</text></g>
<g id="CUR_EXP_GEO_PIPE_SRR_V"><rect class="h" x="1009.5" y="2743.5" width="218" height="24"/><text x="1013.5" y="2760.5">CUR_EXP_GEO_PIPE_SRR_V</text><rect class="b" x="1009.5" y="2767.5" width="218" height="24"/><text x="1013.5" y="2784.5">...</text><rect class="f" x="1009.5" y="2791.5" width="218" height="24"/><path class="l" d="M1105.5 2791.5v24M1176.5 2791.5v24"/><text x="1012.5" y="2808.5">&lt; 1</text><text class="r" x="1174.5" y="2808.5">view</text></g>
<g id="CUR_EXP_GEO_XML"><rect class="h" x="1040.5" y="2879.5" width="155" height="24"/><text x="1044.5" y="2896.5">CUR_EXP_GEO_XML</text><rect class="b" x="1040.5" y="2903.5" width="155" height="24"/><text x="1044.5" y="2920.5">...</text><rect class="f" x="1040.5" y="2927.5" width="155" height="24"/><path class="l" d="M1088.5 2927.5v24M1167.5 2927.5v24"/><text x="1043.5" y="2944.5">&lt; 1</text><text class="r" x="1165.5" y="2944.5">309 rows</text></g>
<g id="LAB"><rect class="h" x="276.5" y="2927" width="138.5" height="24"/><text x="332" y="2944">LAB</text><rect class="b" x="276.5" y="2951" width="138.5" height="24"/><text x="280.5" y="2968">...</text><rect class="f" x="276.5" y="2975" width="138.5" height="24"/><path class="l" d="M303 2975v24M374.5 2975v24"/><text x="279.5" y="2992">&lt; 3</text><text class="r" x="372.5" y="2992">581 rows</text><text class="r" x="412" y="2992">21 &gt;</text></g>
<g id="CUR_EXP_GSMS"><rect class="h" x="2104" y="2920" width="141" height="24"/><text x="2118.5" y="2937">CUR_EXP_GSMS</text><rect class="b" x="2104" y="2944" width="141" height="24"/><text x="2108" y="2961">...</text><rect class="f" x="2104" y="2968" width="141" height="24"/><path class="l" d="M2130.5 2968v24M2213.5 2968v24"/><text x="2107" y="2985">&lt; 2</text><text class="r" x="2211.5" y="2985">5,313 rows</text><text class="r" x="2242" y="2985">1 &gt;</text></g>
<g id="AUDIT_CUR_EXP_GSMS"><rect class="h" x="2426" y="2920" width="181.5" height="24"/><text x="2433" y="2937">AUDIT_CUR_EXP_GSMS</text><rect class="b" x="2426" y="2944" width="181.5" height="24"/><text x="2430" y="2961">...</text><rect class="f" x="2426" y="2968" width="181.5" height="24"/><path class="l" d="M2483.5 2968v24M2576.5 2968v24"/><text x="2429" y="2985">&lt; 3</text><text class="r" x="2574.5" y="2985">44,317 rows</text></g>
<g id="CUR_EXP_GSE_STATUS_CURRENT_V"><rect class="h" x="979.5" y="2979.5" width="277.5" height="24"/><text x="983.5" y="2996.5">CUR_EXP_GSE_STATUS_CURRENT_V</text><rect class="b" x="979.5" y="3003.5" width="277.5" height="24"/><text x="983.5" y="3020.5">...</text><rect class="f" x="979.5" y="3027.5" width="277.5" height="24"/><path class="l" d="M1105.5 3027.5v24M1191.5 3027.5v24"/><text x="982.5" y="3044.5">&lt; 4</text><text class="r" x="1189.5" y="3044.5">view</text></g>
<g id="CUR_EXP_GSE_STATUS_LIST_V"><rect class="h" x="999.5" y="3115.5" width="237" height="24"/><text x="1003.5" y="3132.5">CUR_EXP_GSE_STATUS_LIST_V</text><rect class="b" x="999.5" y="3139.5" width="237" height="24"/><text x="1003.5" y="3156.5">...</text><rect class="f" x="999.5" y="3163.5" width="237" height="24"/><path class="l" d="M1104.5 3163.5v24M1180.5 3163.5v24"/><text x="1002.5" y="3180.5">&lt; 1</text><text class="r" x="1178.5" y="3180.5">view</text></g>
<g id="CUR_EXP_GSE_STATUS_V"><rect class="h" x="1019.5" y="3215.5" width="197.5" height="24"/><text x="1023.5" y="3232.5">CUR_EXP_GSE_STATUS_V</text><rect class="b" x="1019.5" y="3239.5" width="197.5" height="24"/><text x="1023.5" y="3256.5">...</text><rect class="f" x="1019.5" y="3263.5" width="197.5" height="24"/><path class="l" d="M1105.5 3263.5v24M1171.5 3263.5v24"/><text x="1022.5" y="3280.5">&lt; 4</text><text class="r" x="1169.5" y="3280.5">view</text></g>
<g id="CUR_EXP_PROCESS_CTRL"><rect class="h" x="1015.5" y="3315.5" width="206" height="24"/><text x="1019.5" y="3332.5">CUR_EXP_PROCESS_CTRL</text><rect class="b" x="1015.5" y="3339.5" width="206" height="24"/><text x="1019.5" y="3356.5">...</text><rect class="f" x="1015.5" y="3363.5" width="206" height="24"/><path class="l" d="M1083.5 3363.5v24M1185 3363.5v24"/><text x="1018.5" y="3380.5">&lt; 2</text><text class="r" x="1183" y="3380.5">4,210 rows</text></g>
<g id="PERSON"><rect class="h" x="272.5" y="3471.5" width="147.5" height="24"/><text x="314" y="3488.5">PERSON</text><rect class="b" x="272.5" y="3495.5" width="147.5" height="24"/><text x="276.5" y="3512.5">...</text><rect class="f" x="272.5" y="3519.5" width="147.5" height="24"/><path class="l" d="M301.5 3519.5v24M382.5 3519.5v24"/><text x="275.5" y="3536.5">&lt; 4</text><text class="r" x="380.5" y="3536.5">1,873 rows</text><text class="r" x="417" y="3536.5">70 &gt;</text></g>
<g id="RESEARCHGRANT_PAPER"><rect class="h" x="592" y="3471.5" width="198.5" height="24"/><text x="595.5" y="3488.5">RESEARCHGRANT_PAPER</text><rect class="b" x="592" y="3495.5" width="198.5" height="24"/><text x="596" y="3512.5">...</text><rect class="f" x="592" y="3519.5" width="198.5" height="24"/><path class="l" d="M650.5 3519.5v24M757.5 3519.5v24"/><text x="595" y="3536.5">&lt; 4</text><text class="r" x="755.5" y="3536.5">51,873 rows</text></g>
<g id="CUR_EXP_CONTRIBUTOR"><rect class="h" x="1021" y="3523.5" width="194" height="24"/><text x="1025" y="3540.5">CUR_EXP_CONTRIBUTOR</text><rect class="b" x="1021" y="3547.5" width="194" height="24"/><text x="1025" y="3564.5">...</text><rect class="f" x="1021" y="3571.5" width="194" height="24"/><path class="l" d="M1078 3571.5v24M1173 3571.5v24"/><text x="1024" y="3588.5">&lt; 4</text><text class="r" x="1171" y="3588.5">1,309 rows</text><text class="r" x="1212" y="3588.5">1 &gt;</text></g>
<g id="AUDIT_CUR_EXP_CONTRIBUTOR"><rect class="h" x="1398.5" y="3523.5" width="244" height="24"/><text x="1404" y="3540.5">AUDIT_CUR_EXP_CONTRIBUTOR</text><rect class="b" x="1398.5" y="3547.5" width="244" height="24"/><text x="1402.5" y="3564.5">...</text><rect class="f" x="1398.5" y="3571.5" width="244" height="24"/><path class="l" d="M1500 3571.5v24M1589 3571.5v24"/><text x="1401.5" y="3588.5">&lt; 5</text><text class="r" x="1587" y="3588.5">0 rows</text></g>
<g id="PAPER">
<rect class="h" x="248" y="1421.5" width="196.5" height="24"/><text x="320.5" y="1438.5">PAPER</text>
<rect class="k" x="248" y="1445.5" width="196.5" height="24"/><text x="252" y="1462.5">PAPER_ID</text>
<rect class="i" x="248" y="1469.5" width="196.5" height="24"/><text x="252" y="1486.5">TITLE</text>
<rect class="b" x="248" y="1493.5" width="196.5" height="24"/><text x="252" y="1510.5">ABSTRACT</text>
<rect class="b" x="248" y="1517.5" width="196.5" height="24"/><text x="252" y="1534.5">ABSTRACT_MARKUP</text>
<rect class="b" x="248" y="1541.5" width="196.5" height="24"/><text x="252" y="1558.5">PAGINATION</text>
<rect class="b" x="248" y="1565.5" width="196.5" height="24"/><text x="252" y="1582.5">PAPERTYPE_ID</text>
<rect class="i" x="248" y="1589.5" width="196.5" height="24"/><text x="252" y="1606.5">JOURNALISSUE_ID</text>
<rect class="i" x="248" y="1613.5" width="196.5" height="24"/><text x="252" y="1630.5">BOOK_ID</text>
<rect class="b" x="248" y="1637.5" width="196.5" height="24"/><text x="252" y="1654.5">AUTHOR_LIST_COMPLETE</text>
<rect class="i" x="248" y="1661.5" width="196.5" height="24"/><text x="252" y="1678.5">PUBMED_ID</text>
<rect class="b" x="248" y="1685.5" width="196.5" height="24"/><text x="252" y="1702.5">CREATED_BY</text>
<rect class="b" x="248" y="1709.5" width="196.5" height="24"/><text x="252" y="1726.5">CREATED_AT</text>
<rect class="b" x="248" y="1733.5" width="196.5" height="24"/><text x="252" y="1750.5">MODIFIED_AT</text>
<rect class="b" x="248" y="1757.5" width="196.5" height="24"/><text x="252" y="1774.5">MODIFIED_BY</text>
<rect class="b" x="248" y="1781.5" width="196.5" height="24"/><text x="252" y="1798.5">TITLE_MARKUP</text>
<rect class="b" x="248" y="1805.5" width="196.5" height="24"/><text x="252" y="1822.5">RESOURCE_URL</text>
<rect class="b" x="248" y="1829.5" width="196.5" height="24"/><text x="252" y="1846.5">PERMISSION_TYPE_ID</text>
<rect class="f" x="248" y="1853.5" width="196.5" height="24"/><path class="l" d="M296.5 1853.5v24M396.5 1853.5v24"/><text x="251" y="1870.5">&lt; 4</text><text class="r" x="394.5" y="1870.5">53,335 rows</text><text class="r" x="441.5" y="1870.5">38 &gt;</text>
</g>
<g id="CUR_EXP_EXPERIMENT">
<rect class="h" x="1420.5" y="1371.5" width="200" height="24"/><text x="1435" y="1388.5">CUR_EXP_EXPERIMENT</text>
<rect class="k" x="1420.5" y="1395.5" width="200" height="24"/><text x="1424.5" y="1412.5">CURXPX_ID</text>
<rect class="b" x="1420.5" y="1419.5" width="200" height="24"/><text x="1424.5" y="1436.5">EXPERIMENT_ID</text>
<rect class="b" x="1420.5" y="1443.5" width="200" height="24"/><text x="1424.5" y="1460.5">LINE_ID</text>
<rect class="b" x="1420.5" y="1467.5" width="200" height="24"/><text x="1424.5" y="1484.5">PAPER_ID</text>
<rect class="b" x="1420.5" y="1491.5" width="200" height="24"/><text x="1424.5" y="1508.5">CURXPREL_ID</text>
<rect class="b" x="1420.5" y="1515.5" width="200" height="24"/><text x="1424.5" y="1532.5">CURXPX_COMMENT</text>
<rect class="b" x="1420.5" y="1539.5" width="200" height="24"/><text x="1424.5" y="1556.5">REF_NAME</text>
<rect class="b" x="1420.5" y="1563.5" width="200" height="24"/><text x="1424.5" y="1580.5">REF_TYPE</text>
<rect class="b" x="1420.5" y="1587.5" width="200" height="24"/><text x="1424.5" y="1604.5">CREATED_BY</text>
<rect class="b" x="1420.5" y="1611.5" width="200" height="24"/><text x="1424.5" y="1628.5">CREATED_AT</text>
<rect class="b" x="1420.5" y="1635.5" width="200" height="24"/><text x="1424.5" y="1652.5">MODIFIED_BY</text>
<rect class="b" x="1420.5" y="1659.5" width="200" height="24"/><text x="1424.5" y="1676.5">MODIFIED_AT</text>
<rect class="b" x="1420.5" y="1683.5" width="200" height="24"/><text x="1424.5" y="1700.5">PHENO_AMBIGUOUS_FLAG</text>
<rect class="f" x="1420.5" y="1707.5" width="200" height="24"/><path class="l" d="M1479.5 1707.5v24M1575.5 1707.5v24"/><text x="1423.5" y="1724.5">&lt; 4</text><text class="r" x="1573.5" y="1724.5">2,125 rows</text><text class="r" x="1617.5" y="1724.5">8 &gt;</text>
</g>
<g id="CUR_EXP_CO_PROP">
<rect class="h" x="1776.5" y="1291.5" width="159.5" height="24"/><text x="1780" y="1308.5">CUR_EXP_CO_PROP</text>
<rect class="k" x="1776.5" y="1315.5" width="159.5" height="24"/><text x="1780.5" y="1332.5">CO_PROP_ID</text>
<rect class="i" x="1776.5" y="1339.5" width="159.5" height="24"/><text x="1780.5" y="1356.5">CURXPA_ID</text>
<rect class="i" x="1776.5" y="1363.5" width="159.5" height="24"/><text x="1780.5" y="1380.5">CURXPX_ID</text>
<rect class="b" x="1776.5" y="1387.5" width="159.5" height="24"/><text x="1780.5" y="1404.5">EXPERIMENT_ID</text>
<rect class="b" x="1776.5" y="1411.5" width="159.5" height="24"/><text x="1780.5" y="1428.5">TRACKNAME</text>
<rect class="i" x="1776.5" y="1435.5" width="159.5" height="24"/><text x="1780.5" y="1452.5">CURXPREL_ID</text>
<rect class="b" x="1776.5" y="1459.5" width="159.5" height="24"/><text x="1780.5" y="1476.5">CREATED_BY</text>
<rect class="b" x="1776.5" y="1483.5" width="159.5" height="24"/><text x="1780.5" y="1500.5">CREATED_AT</text>
<rect class="b" x="1776.5" y="1507.5" width="159.5" height="24"/><text x="1780.5" y="1524.5">MODIFIED_BY</text>
<rect class="b" x="1776.5" y="1531.5" width="159.5" height="24"/><text x="1780.5" y="1548.5">MODIFIED_AT</text>
<rect class="b" x="1776.5" y="1555.5" width="159.5" height="24"/><text x="1780.5" y="1572.5">IS_FOR_BIGWIG</text>
<rect class="f" x="1776.5" y="1579.5" width="159.5" height="24"/><path class="l" d="M1811.5 1579.5v24M1895.5 1579.5v24"/><text x="1779.5" y="1596.5">&lt; 4</text><text class="r" x="1893.5" y="1596.5">4,371 rows</text><text class="r" x="1933" y="1596.5">19 &gt;</text>
</g>
<g id="CUR_EXP_METHOD">
<rect class="h" x="1043.5" y="2012.5" width="149" height="24"/><text x="1047.5" y="2029.5">CUR_EXP_METHOD</text>
<rect class="k" x="1043.5" y="2036.5" width="149" height="24"/><text x="1047.5" y="2053.5">CURXPREL_ID</text>
<rect class="b" x="1043.5" y="2060.5" width="149" height="24"/><text x="1047.5" y="2077.5">PAPER_ID</text>
<rect class="b" x="1043.5" y="2084.5" width="149" height="24"/><text x="1047.5" y="2101.5">REF_NAME</text>
<rect class="b" x="1043.5" y="2108.5" width="149" height="24"/><text x="1047.5" y="2125.5">REF_TYPE</text>
<rect class="b" x="1043.5" y="2132.5" width="149" height="24"/><text x="1047.5" y="2149.5">GSE_ID</text>
<rect class="b" x="1043.5" y="2156.5" width="149" height="24"/><text x="1047.5" y="2173.5">CREATED_AT</text>
<rect class="b" x="1043.5" y="2180.5" width="149" height="24"/><text x="1047.5" y="2197.5">CREATED_BY</text>
<rect class="b" x="1043.5" y="2204.5" width="149" height="24"/><text x="1047.5" y="2221.5">MODIFIED_AT</text>
<rect class="b" x="1043.5" y="2228.5" width="149" height="24"/><text x="1047.5" y="2245.5">MODIFIED_BY</text>
<rect class="f" x="1043.5" y="2252.5" width="149" height="24"/><path class="l" d="M1079.5 2252.5v24M1151.5 2252.5v24"/><text x="1046.5" y="2269.5">&lt; 2</text><text class="r" x="1149.5" y="2269.5">684 rows</text><text class="r" x="1189.5" y="2269.5">14 &gt;</text>
</g>
<g id="CUR_EXP_ASSAY">
<rect class="h" x="1451.5" y="2039.5" width="140" height="24"/><text x="1458.5" y="2056.5">CUR_EXP_ASSAY</text>
<rect class="k" x="1451.5" y="2063.5" width="140" height="24"/><text x="1455.5" y="2080.5">CURXPA_ID</text>
<rect class="b" x="1451.5" y="2087.5" width="140" height="24"/><text x="1455.5" y="2104.5">REF_NAME</text>
<rect class="b" x="1451.5" y="2111.5" width="140" height="24"/><text x="1455.5" y="2128.5">REF_TYPE</text>
<rect class="b" x="1451.5" y="2135.5" width="140" height="24"/><text x="1455.5" y="2152.5">PAPER_ID</text>
<rect class="b" x="1451.5" y="2159.5" width="140" height="24"/><text x="1455.5" y="2176.5">CURXPREL_ID</text>
<rect class="b" x="1451.5" y="2183.5" width="140" height="24"/><text x="1455.5" y="2200.5">EXPERIMENT_ID</text>
<rect class="b" x="1451.5" y="2207.5" width="140" height="24"/><text x="1455.5" y="2224.5">CREATED_BY</text>
<rect class="b" x="1451.5" y="2231.5" width="140" height="24"/><text x="1455.5" y="2248.5">CREATED_AT</text>
<rect class="b" x="1451.5" y="2255.5" width="140" height="24"/><text x="1455.5" y="2272.5">MODIFIED_BY</text>
<rect class="b" x="1451.5" y="2279.5" width="140" height="24"/><text x="1455.5" y="2296.5">MODIFIED_AT</text>
<rect class="f" x="1451.5" y="2303.5" width="140" height="24"/><path class="l" d="M1480.5 2303.5v24M1562 2303.5v24"/><text x="1454.5" y="2320.5">&lt; 3</text><text class="r" x="1560" y="2320.5">2,297 rows</text><text class="r" x="1588.5" y="2320.5">9 &gt;</text>
</g>
<g id="CUR_EXP_GSES">
<rect class="h" x="620" y="2850" width="142.5" height="24"/><text x="631.5" y="2867">CUR_EXP_GSES</text>
<rect class="b" x="620" y="2874" width="142.5" height="24"/><text x="624" y="2891">GSES_ID</text>
<rect class="k" x="620" y="2898" width="142.5" height="24"/><text x="624" y="2915">GSE_ID</text>
<rect class="b" x="620" y="2922" width="142.5" height="24"/><text x="624" y="2939">GSMSASSOC</text>
<rect class="b" x="620" y="2946" width="142.5" height="24"/><text x="624" y="2963">CONTACTPERSON</text>
<rect class="b" x="620" y="2970" width="142.5" height="24"/><text x="624" y="2987">SERIESTITLE</text>
<rect class="b" x="620" y="2994" width="142.5" height="24"/><text x="624" y="3011">SUMMARY</text>
<rect class="b" x="620" y="3018" width="142.5" height="24"/><text x="624" y="3035">CONTRIBUTORS</text>
<rect class="b" x="620" y="3042" width="142.5" height="24"/><text x="624" y="3059">LAB</text>
<rect class="b" x="620" y="3066" width="142.5" height="24"/><text x="624" y="3083">EXPDESIGN</text>
<rect class="b" x="620" y="3090" width="142.5" height="24"/><text x="624" y="3107">PUBMEDID</text>
<rect class="b" x="620" y="3114" width="142.5" height="24"/><text x="624" y="3131">PAPER_ID</text>
<rect class="b" x="620" y="3138" width="142.5" height="24"/><text x="624" y="3155">LAB_ID</text>
<rect class="b" x="620" y="3162" width="142.5" height="24"/><text x="624" y="3179">PERSON_ID</text>
<rect class="b" x="620" y="3186" width="142.5" height="24"/><text x="624" y="3203">SRA_STUDY_NUM</text>
<rect class="b" x="620" y="3210" width="142.5" height="24"/><text x="624" y="3227">CREATED_BY</text>
<rect class="b" x="620" y="3234" width="142.5" height="24"/><text x="624" y="3251">CREATED_AT</text>
<rect class="b" x="620" y="3258" width="142.5" height="24"/><text x="624" y="3275">MODIFIED_BY</text>
<rect class="b" x="620" y="3282" width="142.5" height="24"/><text x="624" y="3299">MODIFIED_AT</text>
<rect class="f" x="620" y="3306" width="142.5" height="24"/><path class="l" d="M651.5 3306v24M722.5 3306v24"/><text x="623" y="3323">&lt; 3</text><text class="r" x="720.5" y="3323">302 rows</text><text class="r" x="759.5" y="3323">17 &gt;</text>
</g>
<g id="HAS_FROG_ASSAY_INFO_V">
<rect class="h" x="2036.5" y="2078" width="275.5" height="26.5"/><text x="2079.5" y="2097">HAS_FROG_ASSAY_INFO_V</text>
<rect class="b" x="2036.5" y="2104.5" width="179" height="24"/><rect class="b" x="2215.5" y="2104.5" width="96.5" height="24"/><text x="2040.5" y="2121.5">CO_PROP_ID</text><text x="2219.5" y="2121.5">integer[4]</text>
<rect class="b" x="2036.5" y="2128.5" width="179" height="24"/><rect class="b" x="2215.5" y="2128.5" width="96.5" height="24"/><text x="2040.5" y="2145.5">CURXPX_ID</text><text x="2219.5" y="2145.5">integer[4]</text>
<rect class="b" x="2036.5" y="2152.5" width="179" height="24"/><rect class="b" x="2215.5" y="2152.5" width="96.5" height="24"/><text x="2040.5" y="2169.5">CURXPA_ID</text><text x="2219.5" y="2169.5">integer[4]</text>
<rect class="b" x="2036.5" y="2176.5" width="179" height="24"/><rect class="b" x="2215.5" y="2176.5" width="96.5" height="24"/><text x="2040.5" y="2193.5">CURXPREL_ID</text><text x="2219.5" y="2193.5">integer[4]</text>
<rect class="b" x="2036.5" y="2200.5" width="179" height="24"/><rect class="b" x="2215.5" y="2200.5" width="96.5" height="24"/><text x="2040.5" y="2217.5">PAPER_ID</text><text x="2219.5" y="2217.5">integer[4]</text>
<rect class="b" x="2036.5" y="2224.5" width="179" height="24"/><rect class="b" x="2215.5" y="2224.5" width="96.5" height="24"/><text x="2040.5" y="2241.5">GSE_ID</text><text x="2219.5" y="2241.5">integer[4]</text>
<rect class="b" x="2036.5" y="2248.5" width="179" height="24"/><rect class="b" x="2215.5" y="2248.5" width="96.5" height="24"/><text x="2040.5" y="2265.5">REF_TYPE</text><text x="2219.5" y="2265.5">integer[4]</text>
<rect class="b" x="2036.5" y="2272.5" width="179" height="24"/><rect class="b" x="2215.5" y="2272.5" width="96.5" height="24"/><text x="2040.5" y="2289.5">TX_CONTEXT</text><text x="2219.5" y="2289.5">varchar[4000]</text>
<rect class="b" x="2036.5" y="2296.5" width="179" height="24"/><rect class="b" x="2215.5" y="2296.5" width="96.5" height="24"/><text x="2040.5" y="2313.5">CX_CONTEXT</text><text x="2219.5" y="2313.5">varchar[4000]</text>
<rect class="b" x="2036.5" y="2320.5" width="179" height="24"/><rect class="b" x="2215.5" y="2320.5" width="96.5" height="24"/><text x="2040.5" y="2337.5">FROG_INFO</text><text x="2219.5" y="2337.5">varchar[4000]</text>
<rect class="b" x="2036.5" y="2344.5" width="179" height="24"/><rect class="b" x="2215.5" y="2344.5" width="96.5" height="24"/><text x="2040.5" y="2361.5">FROG_INFO_CONTEXT</text><text x="2219.5" y="2361.5">varchar[4000]</text>
<rect class="b" x="2036.5" y="2368.5" width="179" height="24"/><rect class="b" x="2215.5" y="2368.5" width="96.5" height="24"/><text x="2040.5" y="2385.5">ASSAY_INFO</text><text x="2219.5" y="2385.5">varchar[4000]</text>
<rect class="b" x="2036.5" y="2392.5" width="179" height="24"/><rect class="b" x="2215.5" y="2392.5" width="96.5" height="24"/><text x="2040.5" y="2409.5">ASSAY_INFO_CONTEXT</text><text x="2219.5" y="2409.5">varchar[4000]</text>
<rect class="f" x="2036.5" y="2416.5" width="275.5" height="24"/><path class="l" d="M2123.5 2416.5v24M2215.5 2416.5v24"/><text x="2039.5" y="2433.5">&lt; 6</text><text class="r" x="2213.5" y="2433.5">view</text><text class="r" x="2309" y="2433.5">0 &gt;</text>
<rect x="2035.5" y="2077" width="277.5" height="364.5" fill="none" stroke="#000" stroke-width="3"/>
</g>
<text x="17" y="3725">Generated by SchemaSpy</text>
</svg>
